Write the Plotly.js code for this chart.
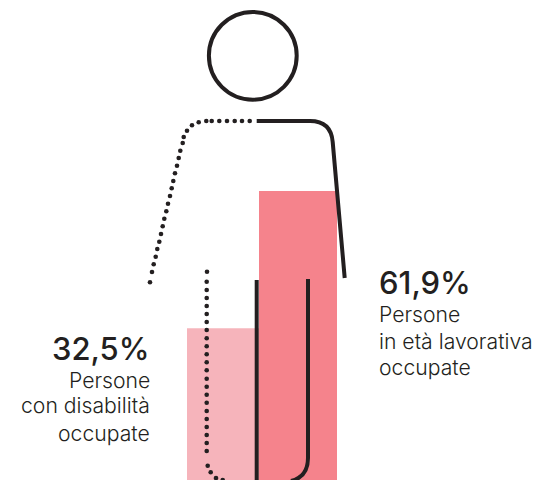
<!DOCTYPE html>
<html><head><meta charset="utf-8">
<script src="https://cdn.plot.ly/plotly-3.0.0.min.js"></script>
<style>html,body{margin:0;padding:0;background:#fff}#c{width:539px;height:480px}</style>
</head><body><div id="c"></div>
<script>
// Data
const categories = ['Persone con disabilità occupate', 'Persone in età lavorativa occupate'];
const values = [32.5, 61.9];
// Layout of the two bars on the 539px x axis
const barCentres = [223, 298];
const barWidths = [72, 78];
const barColors = ['#f6b4bb', '#f5838c'];
const ink = '#231f20';
const yMax = 102.8;
// Dotted half of the figure
const armDotsX = [249.7,242,234.7,227,219.3,211.7,206.3,198.7,192,187,183.7,182.7,180.3,178.7,177,175,173.3,171.7,170,168,166.3,164.3,162.7,161,159.3,157.3,155.7,153.7,152,150];
const armDotsY = [121,121,121,121,121,121,121,122.3,125.3,130.7,137,143,150.7,158,165.7,173.3,181,188.3,196,203.7,211.3,218.7,226.3,234,241.7,249,256.7,264.3,272,282.3];
const legDotsX = [207,206.7,206.7,206.7,206.7,206.7,206.7,206.7,206.7,206.7,206.7,206.7,206.7,206.7,206.7,206.7,206.7,206.7,206.7,206.7,206.7,206.7,206.7,207.7,210.7,216,222.7];
const legDotsY = [271.7,281.7,290,298,306,314,322,330,338.3,346.3,354.3,362.3,370.3,378.7,386.7,394.7,402.7,411,419,427,435,443,451,465.7,472.3,478,480];
// Solid half of the figure
const armPath = 'M 256.7 121 L 310 121 Q 331 121 332.7 142 L 344.7 278';
const innerLegPath = 'M 256.7 280 L 256.7 480';
const outerLegPath = 'M 308 279 L 308 458 Q 308 477 291 481';
const head = {cx: 252.8, cy: 55.8, r: 43.9};

const fmt = v => v.toFixed(1).replace('.', ',') + '%';
const big = {family: 'Inter, sans-serif', size: 31, color: ink, weight: 500};
const small = {family: 'Inter, sans-serif', size: 21.2, color: ink, weight: 300};
function label(text, x, y, anchor, font) {
  return {text, x, y, xref: 'x', yref: 'y2', xanchor: anchor, yanchor: 'middle', showarrow: false, font, borderpad: 0, borderwidth: 0};
}
function pathShape(path) {
  return {type: 'path', path, xref: 'x', yref: 'y2', layer: 'above', line: {color: ink, width: 4}};
}
const traces = [
  {type: 'bar', x: barCentres, y: values, width: barWidths, name: 'Occupate', text: categories, textposition: 'none',
   marker: {color: barColors, line: {width: 0}}, hoverinfo: 'text+y'},
  {type: 'scatter', mode: 'markers', x: armDotsX, y: armDotsY, yaxis: 'y2', hoverinfo: 'skip',
   marker: {color: ink, size: 4.6, line: {width: 0}}},
  {type: 'scatter', mode: 'markers', x: legDotsX, y: legDotsY, yaxis: 'y2', hoverinfo: 'skip',
   marker: {color: ink, size: 4.6, line: {width: 0}}}
];
const layout = {
  width: 539, height: 480, margin: {l: 0, r: 0, t: 0, b: 0},
  paper_bgcolor: '#fff', plot_bgcolor: '#fff', showlegend: false,
  xaxis: {range: [0, 539], visible: false, fixedrange: true},
  yaxis: {range: [0, yMax], visible: false, fixedrange: true},
  yaxis2: {range: [480, 0], visible: false, overlaying: 'y', fixedrange: true},
  shapes: [
    pathShape(armPath), pathShape(innerLegPath), pathShape(outerLegPath),
    {type: 'circle', xref: 'x', yref: 'y2', layer: 'above', x0: head.cx - head.r, x1: head.cx + head.r,
     y0: head.cy - head.r, y1: head.cy + head.r, line: {color: ink, width: 4}}
  ],
  annotations: [
    label(fmt(values[0]), 150, 348, 'right', big),
    label('Persone', 150, 380, 'right', small),
    label('con disabilità', 150, 405, 'right', small),
    label('occupate', 150, 433, 'right', small),
    label(fmt(values[1]), 379, 282, 'left', big),
    label('Persone', 379, 314, 'left', small),
    label('in età lavorativa', 379, 341, 'left', small),
    label('occupate', 379, 367, 'left', small)
  ]
};
Plotly.newPlot('c', traces, layout, {displayModeBar: false, staticPlot: true});
</script></body></html>
